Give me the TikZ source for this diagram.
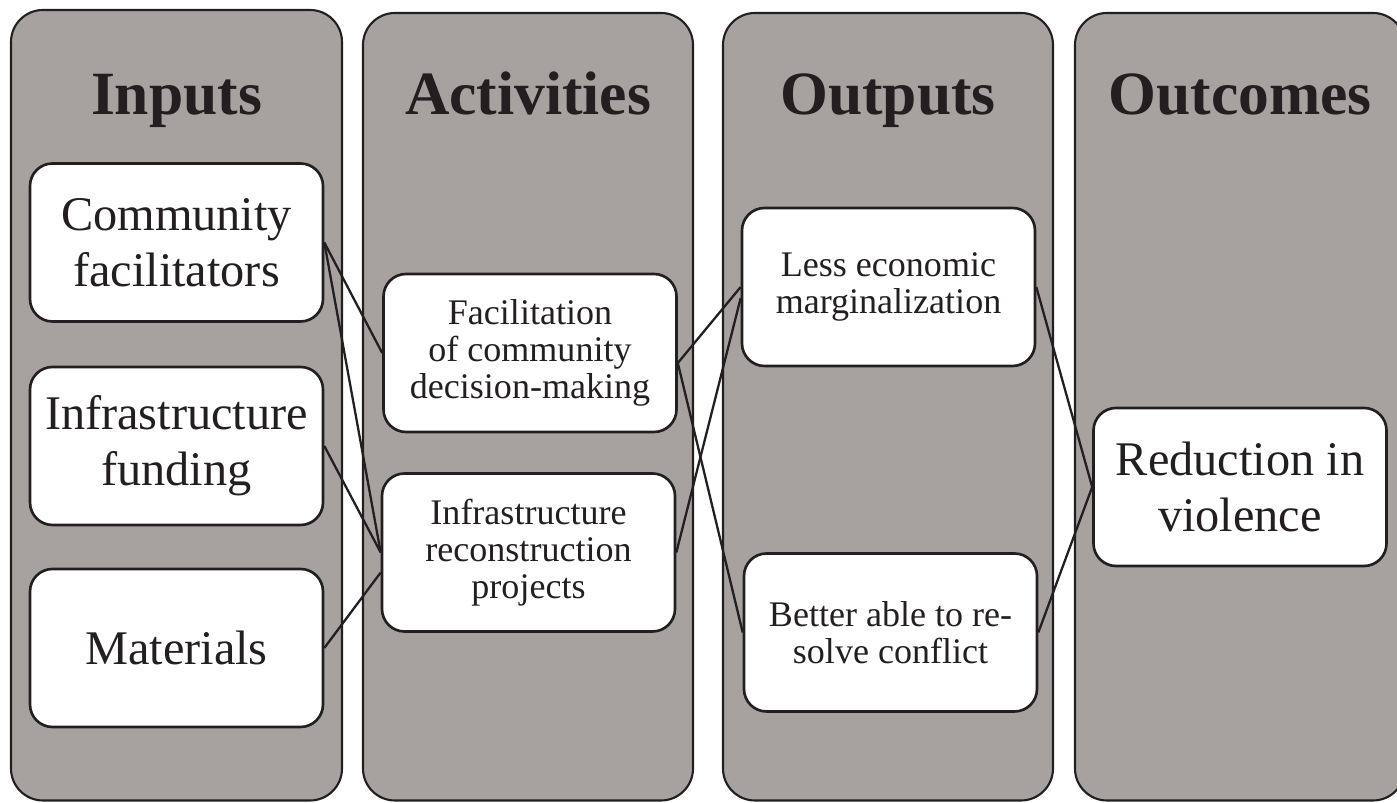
\documentclass[tikz,border=0pt]{standalone}
\usepackage{fontspec}
\setmainfont{Liberation Serif}
\usetikzlibrary{calc}
\definecolor{LaneGray}{RGB}{167,162,159}
\definecolor{InkDark}{RGB}{35,31,32}
\newcommand{\lanebox}[5]{%
  \draw[lane] (#1,0.05) rectangle (#2,#3);
  \node[head] (#4) at ({(#1+#2)/2},13.76) {#5};}

\begin{document}
\begin{tikzpicture}[
  lane/.style={fill=LaneGray,draw=InkDark,line width=1.2pt,rounded corners=0.64cm},
  head/.style={anchor=base,text=InkDark,font=\fontsize{35}{40}\selectfont\bfseries},
  bigbox/.style={draw=InkDark,fill=white,line width=1.5pt,rounded corners=0.45cm,
    minimum width=5.86cm,minimum height=3.16cm,inner sep=0pt,align=center,
    text=InkDark,font=\fontsize{27.5}{32}\selectfont},
  smallbox/.style={bigbox,font=\fontsize{20.5}{21}\selectfont},
  link/.style={draw=InkDark,line width=1.3pt}]
  \useasboundingbox (0,0) rectangle (27.94,16.06);
  \clip (0,0) rectangle (27.94,16.06);
  \lanebox{0.22}{6.84}{15.86}{inputs}{Inputs}
  \lanebox{7.26}{13.86}{15.80}{activities}{Activities}
  \lanebox{14.46}{21.06}{15.80}{outputs}{Outputs}
  \lanebox{21.50}{28.10}{15.80}{outcomes}{Outcomes}
  % inputs
  \node[bigbox] (comm) at (3.53,11.21) {Community\\facilitators};
  \node[bigbox] (fund) at (3.53,7.14) {Infrastructure\\funding};
  \node[bigbox] (mat) at (3.53,3.10) {Materials};
  % activities
  \node[smallbox] (facil) at (10.6,9.00) {Facilitation\\of community\\decision-making};
  \node[smallbox] (recon) at (10.57,5.01) {Infrastructure\\reconstruction\\projects};
  % outputs
  \node[smallbox] (less) at (17.77,10.32) {Less economic\\marginalization};
  \node[smallbox] (better) at (17.81,3.41) {Better able to re-\\solve conflict};
  % outcome
  \node[bigbox] (viol) at (24.80,6.32) {Reduction in\\violence};
  \draw[link] (comm.east) -- (facil.west);
  \draw[link] (comm.east) -- (recon.west);
  \draw[link] (fund.east) -- (recon.west);
  \draw[link] (mat.east) -- ([yshift=-0.4cm]recon.west);
  \draw[link] ([yshift=-0.2cm]facil.east) -- (less.west);
  \draw[link] ([yshift=-0.2cm]facil.east) -- (better.west);
  \draw[link] (recon.east) -- ([yshift=-0.22cm]less.west);
  \draw[link] (less.east) -- (viol.west);
  \draw[link] (better.east) -- (viol.west);
\end{tikzpicture}
\end{document}
